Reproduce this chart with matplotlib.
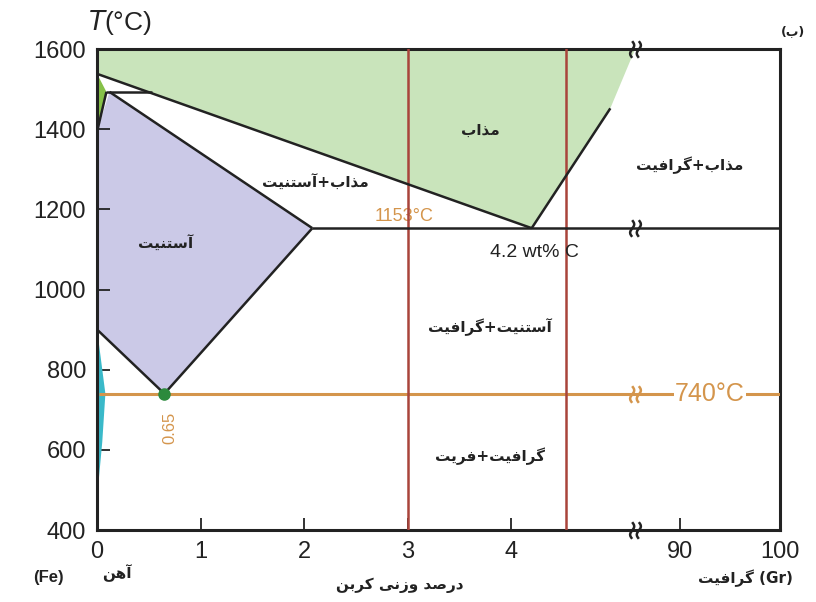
import numpy as np
import matplotlib.pyplot as plt
from matplotlib.path import Path

# Fe-C (graphite) phase diagram; compositions in wt% C, temperatures in degC
liquid_region = [(0.0, 1600), (5.2, 1600), (4.96, 1452), (4.2, 1153), (0.0, 1538)]
delta_region = [(0.0, 1538), (0.09, 1493), (0.0, 1394)]
austenite_region = [(0.12, 1493), (2.08, 1153), (0.65, 740), (0.0, 900), (0.0, 1394)]
ferrite_region = [(0.0, 900), (0.08, 740), (0.05, 620), (0.0, 480)]

liquidus_fe = [(0.0, 1538), (4.2, 1153)]
liquidus_gr = [(4.2, 1153), (4.96, 1452)]
solidus_gamma = [(0.12, 1493), (2.08, 1153)]
a3_line = [(0.0, 900), (0.65, 740)]
acm_line = [(0.65, 740), (2.08, 1153)]
peritectic = [(0.09, 1493), (0.53, 1493)]
delta_gamma = [(0.09, 1493), (0.0, 1394)]
eutectic = [(2.08, 1153), (100, 1153)]
eutectoid = [(0.02, 740), (100, 740)]

alloys = [3.0, 4.53]
eutectic_T = 1153
eutectoid_T = 740
eutectic_C = 4.2
eutectoid_C = 0.65

xticks = [0, 1, 2, 3, 4, 90, 100]
yticks = [400, 600, 800, 1000, 1200, 1400, 1600]

# broken x axis: 0..B plotted as is, graphite end squeezed in after the break
B, XR, K = 5.2, 85.5, 0.0966


def fwd(x):
    x = np.asarray(x, dtype=float)
    return np.where(x <= B, x, np.maximum(B, B + (x - XR) * K))


def inv(u):
    u = np.asarray(u, dtype=float)
    return np.where(u <= B, u, XR + (u - B) / K)


# contextual forms for the Persian labels
FORMS = {
    'ا': ('\uFE8D', '\uFE8E', None, None),
    'آ': ('\uFE81', '\uFE82', None, None),
    'ب': ('\uFE8F', '\uFE90', '\uFE91', '\uFE92'),
    'ت': ('\uFE95', '\uFE96', '\uFE97', '\uFE98'),
    'د': ('\uFEA9', '\uFEAA', None, None),
    'ذ': ('\uFEAB', '\uFEAC', None, None),
    'ر': ('\uFEAD', '\uFEAE', None, None),
    'ز': ('\uFEAF', '\uFEB0', None, None),
    'س': ('\uFEB1', '\uFEB2', '\uFEB3', '\uFEB4'),
    'ص': ('\uFEB9', '\uFEBA', '\uFEBB', '\uFEBC'),
    'ف': ('\uFED1', '\uFED2', '\uFED3', '\uFED4'),
    'م': ('\uFEE1', '\uFEE2', '\uFEE3', '\uFEE4'),
    'ن': ('\uFEE5', '\uFEE6', '\uFEE7', '\uFEE8'),
    'ه': ('\uFEE9', '\uFEEA', '\uFEEB', '\uFEEC'),
    'و': ('\uFEED', '\uFEEE', None, None),
    'ک': ('\uFB8E', '\uFB8F', '\uFB90', '\uFB91'),
    'گ': ('\uFB92', '\uFB93', '\uFB94', '\uFB95'),
    'ی': ('\uFBFC', '\uFBFD', '\uFBFE', '\uFBFF'),
}


def fa(text):
    out = []
    for i, ch in enumerate(text):
        if ch not in FORMS:
            out.append(ch)
            continue
        iso, fin, ini, med = FORMS[ch]
        prev = text[i - 1] if i > 0 else ''
        nxt = text[i + 1] if i + 1 < len(text) else ''
        jp = prev in FORMS and FORMS[prev][2] is not None
        jn = nxt in FORMS and ini is not None
        if jp and jn:
            out.append(med)
        elif jp:
            out.append(fin)
        elif jn:
            out.append(ini)
        else:
            out.append(iso)
    return ''.join(reversed(out))


plt.rcParams['font.family'] = ['Liberation Sans', 'DejaVu Sans']
DARK = '#222222'
ORANGE = '#d4954c'
RED = '#a9443b'
FA = dict(family='DejaVu Sans', fontweight='bold', color=DARK)

fig = plt.figure(figsize=(8.16, 6.02), dpi=100)
ax = fig.add_axes([0.119, 0.1196, 0.837, 0.799])
ax.set_xscale('function', functions=(fwd, inv))
ax.set_xlim(0, 100)
ax.set_ylim(400, 1600)


def poly(pts, color, **kw):
    xs, ys = zip(*pts)
    ax.fill(xs, ys, color=color, lw=0, **kw)


def line(pts, color=DARK, lw=1.8, **kw):
    xs, ys = zip(*pts)
    ax.plot(xs, ys, color=color, lw=lw, solid_capstyle='butt', **kw)


poly(liquid_region, '#c9e4bb', zorder=1)
poly(austenite_region, '#cbc9e7', zorder=1)
poly(delta_region, '#86c148', zorder=2)
poly(ferrite_region, '#3ab9c9', zorder=2)

for pts in (liquidus_fe, liquidus_gr, solidus_gamma, a3_line, acm_line,
            peritectic, delta_gamma, eutectic):
    line(pts, zorder=4)
line(eutectoid, color=ORANGE, lw=2.2, zorder=3)
for c in alloys:
    ax.axvline(c, color=RED, lw=1.8, zorder=3)
ax.plot([eutectoid_C], [eutectoid_T], 'o', color='#2c8a3c', ms=8, zorder=5)

# break marks on the horizontal lines
t = np.linspace(-1, 1, 12)
verts, codes = [], []
for dx in (-0.4, 0.4):
    for i, tt in enumerate(t):
        verts.append((dx + 0.25 * np.sin(np.pi * tt), tt))
        codes.append(Path.MOVETO if i == 0 else Path.LINETO)
brk = Path(verts, codes)
for yb in (1600, eutectic_T, 400):
    ax.plot([5.2], [yb], marker=brk, ms=12, mfc='none', mec=DARK, mew=1.8,
            clip_on=False, zorder=6)
ax.plot([5.2], [eutectoid_T], marker=brk, ms=12, mfc='none', mec=ORANGE, mew=1.8,
        zorder=6)

for s in ax.spines.values():
    s.set_linewidth(2.2)
    s.set_color(DARK)
ax.set_xticks(xticks)
ax.set_xticklabels([str(v) for v in xticks])
ax.set_yticks(yticks)
ax.tick_params(direction='in', length=9, width=1.3, colors=DARK, labelsize=17, pad=8)
ax.xaxis.set_minor_locator(plt.NullLocator())

# region labels
ax.text(3.7, 1397, fa('مذاب'), ha='center', va='center', fontsize=11, **FA)
ax.text(2.11, 1265, fa('مذاب+آستنیت'), ha='center', va='center', fontsize=11, **FA)
ax.text(91.0, 1310, fa('مذاب+گرافیت'), ha='center', va='center', fontsize=11, **FA)
ax.text(0.66, 1115, fa('آستنیت'), ha='center', va='center', fontsize=11, **FA)
ax.text(3.8, 905, fa('آستنیت+گرافیت'), ha='center', va='center', fontsize=11, **FA)
ax.text(3.8, 585, fa('گرافیت+فریت'), ha='center', va='center', fontsize=11, **FA)

ax.text(eutectic_C + 0.03, 1092, f'{eutectic_C} wt% C', ha='center', va='center',
        fontsize=14, color=DARK)
ax.text(2.97, 1182, f'{eutectic_T}°C', ha='center', va='center', fontsize=13,
        color=ORANGE, zorder=2)
ax.text(93.0, eutectoid_T, f'{eutectoid_T}°C', ha='center', va='center', fontsize=18,
        color=ORANGE, zorder=7,
        bbox=dict(boxstyle='square,pad=0.05', fc='white', ec='none'))
ax.text(0.70, 655, f'{eutectoid_C}', ha='center', va='center', fontsize=12,
        color=ORANGE, rotation=90)

fig.text(0.147, 0.962, '$T$(°C)', ha='center', va='center', fontsize=19, color=DARK)
fig.text(0.972, 0.947, '(' + fa('ب') + ')', ha='center', va='center', fontsize=9, **FA)
fig.text(0.059, 0.040, '(Fe)', ha='center', va='center', fontsize=12,
         fontweight='bold', color=DARK)
fig.text(0.143, 0.048, fa('آهن'), ha='center', va='center', fontsize=11, **FA)
fig.text(0.49, 0.028, fa('درصد وزنی کربن'), ha='center', va='center', fontsize=11, **FA)
fig.text(0.913, 0.040, fa('گرافیت') + ' (Gr)', ha='center', va='center', fontsize=11,
         **FA)

fig.savefig('out.png', dpi=100)
